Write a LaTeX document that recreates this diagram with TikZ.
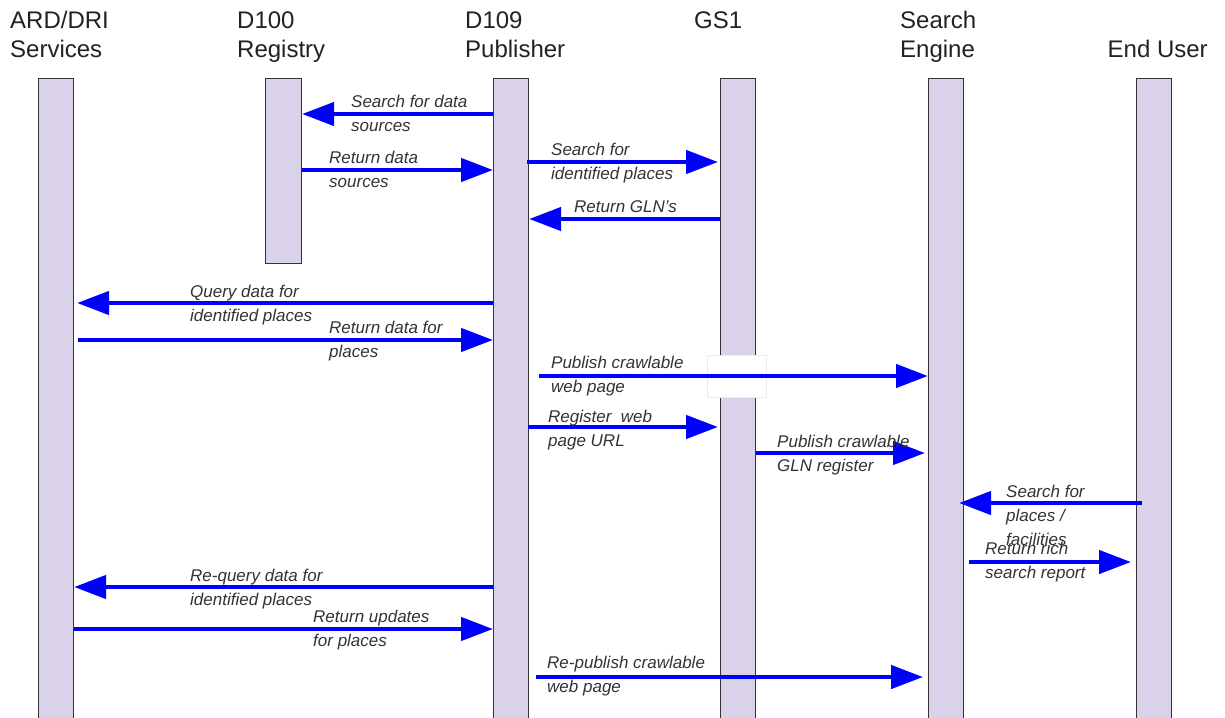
\documentclass[tikz,border=0pt]{standalone}
\usepackage{fontspec}
\setmainfont{Liberation Sans}
\usetikzlibrary{arrows.meta}
\definecolor{lifefill}{HTML}{D9D2E9}
\definecolor{lifedraw}{HTML}{333333}
\definecolor{txt}{HTML}{333333}
\definecolor{hdr}{HTML}{222222}
\definecolor{msgblue}{HTML}{0000FF}
\newcommand\twoline[1]{\begin{tabular}[t]{@{}l@{}}#1\end{tabular}}
\begin{document}
\begin{tikzpicture}[x=1pt,y=-1pt,
 lifeline/.style={draw=lifedraw,line width=1.1pt,fill=lifefill,inner sep=0pt,minimum width=35pt,anchor=north west},
 header/.style={inner sep=0pt,anchor=base west,text=hdr,font=\fontsize{24}{29}\selectfont},
 msg/.style={draw=msgblue,line width=4.5pt,-{Triangle[length=32pt,width=23pt]}},
 msglabel/.style={inner sep=0pt,anchor=base west,text=txt,font=\fontsize{17}{24}\selectfont\itshape}]
\useasboundingbox[fill=white] (0,0) rectangle (1225,717);

% headers
\node[header] (hard) at (10,28.5) {\twoline{ARD/DRI\\Services}};
\node[header] (hd100) at (237,28.5) {\twoline{D100\\Registry}};
\node[header] (hd109) at (465,28.5) {\twoline{D109\\Publisher}};
\node[header] (hgs1) at (694,28.5) {GS1};
\node[header] (hse) at (900,28.5) {\twoline{Search\\Engine}};
\node[header] (heu) at (1107.5,57.5) {End User};

% lifelines
\node[lifeline,minimum height=660pt] (ard) at (38,78) {};
\node[lifeline,minimum width=36pt,minimum height=185pt] (d100) at (265,78) {};
\node[lifeline,minimum height=660pt] (d109) at (493,78) {};
\node[lifeline,minimum height=660pt] (gs1) at (720,78) {};
\node[lifeline,minimum height=660pt] (se) at (928,78) {};
\node[lifeline,minimum height=660pt] (eu) at (1136,78) {};

% white patch over GS1
\node[draw=black!8,line width=0.6pt,fill=white,inner sep=0pt,minimum width=59pt,minimum height=42pt,anchor=north west] (mask) at (707,355) {};

% messages
\draw[msg] (d109.west |- 0,114) -- (d100.east |- 0,114);
\draw[msg] (d100.east |- 0,170) -- (d109.west |- 0,170);
\draw[msg] ([xshift=-2pt]d109.east |- 0,162) -- ([xshift=-2pt]gs1.west |- 0,162);
\draw[msg] (gs1.west |- 0,219) -- (d109.east |- 0,219);
\draw[msg] (d109.west |- 0,303) -- ([xshift=3pt]ard.east |- 0,303);
\draw[msg] ([xshift=4pt]ard.east |- 0,340) -- (d109.west |- 0,340);
\draw[msg] ([xshift=10pt]d109.east |- 0,376) -- (se.west |- 0,376);
\draw[msg] ([xshift=-1pt]d109.east |- 0,427) -- ([xshift=-2pt]gs1.west |- 0,427);
\draw[msg] (gs1.east |- 0,453) -- ([xshift=-3pt]se.west |- 0,453);
\draw[msg] ([xshift=6pt]eu.west |- 0,503) -- ([xshift=-5pt]se.east |- 0,503);
\draw[msg] ([xshift=5pt]se.east |- 0,562) -- ([xshift=-5pt]eu.west |- 0,562);
\draw[msg] (d109.west |- 0,587) -- (ard.east |- 0,587);
\draw[msg] (ard.east |- 0,629) -- (d109.west |- 0,629);
\draw[msg] ([xshift=7pt]d109.east |- 0,677) -- ([xshift=-5pt]se.west |- 0,677);

% message labels
\node[msglabel] (l1) at (351,107) {\twoline{Search for data\\sources}};
\node[msglabel] (l2) at (329,163) {\twoline{Return data\\sources}};
\node[msglabel] (l3) at (551,155) {\twoline{Search for\\identified places}};
\node[msglabel] (l4) at (574,212) {Return GLN’s};
\node[msglabel] (l5) at (190,297) {\twoline{Query data for\\identified places}};
\node[msglabel] (l6) at (329,333) {\twoline{Return data for\\places}};
\node[msglabel] (l7) at (551,368) {\twoline{Publish crawlable\\web page}};
\node[msglabel] (l8) at (548,422) {\twoline{Register\ \ web\\page URL}};
\node[msglabel] (l9) at (777,447) {\twoline{Publish crawlable\\GLN register}};
\node[msglabel] (l10) at (1006,497) {\twoline{Search for\\places /\\facilities}};
\node[msglabel] (l11) at (985,554) {\twoline{Return rich\\search report}};
\node[msglabel] (l12) at (190,581) {\twoline{Re-query data for\\identified places}};
\node[msglabel] (l13) at (313,622) {\twoline{Return updates\\for places}};
\node[msglabel] (l14) at (547,668) {\twoline{Re-publish crawlable\\web page}};
\end{tikzpicture}
\end{document}
